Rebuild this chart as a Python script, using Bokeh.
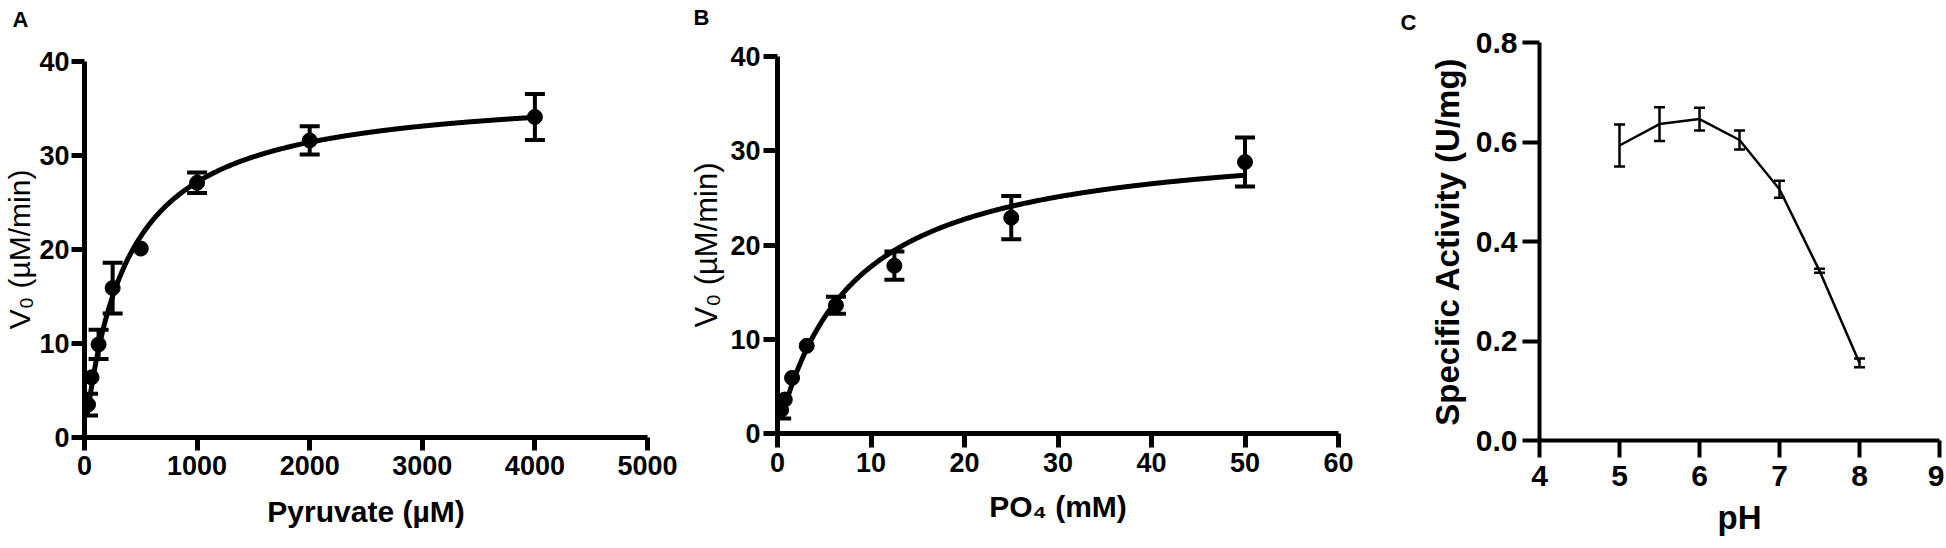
import numpy as np
from bokeh.plotting import figure
from bokeh.models import (Range1d, FixedTicker, Whisker, TeeHead, ColumnDataSource,
                          PrintfTickFormatter)
from bokeh.layouts import row, column
from bokeh.embed import file_html
from bokeh.resources import INLINE

FONT = "Liberation Sans"

# ---------------- data ----------------
# Panel A: pyruvate saturation (Michaelis-Menten)
pyruvate_uM = [31.25, 62.5, 125, 250, 500, 1000, 2000, 4000]
pyruvate_v0 = [3.5, 6.4, 9.9, 15.9, 20.1, 27.1, 31.6, 34.1]
pyruvate_sd = [1.15, 0.7, 1.55, 2.7, 0.3, 1.1, 1.5, 2.45]
pyruvate_vmax = 37.2     # fitted Vmax (uM/min)
pyruvate_km = 369.0      # fitted Km (uM)

# Panel B: phosphate saturation
po4_mM = [0.39, 0.78, 1.56, 3.125, 6.25, 12.5, 25, 50]
po4_v0 = [2.5, 3.6, 5.9, 9.3, 13.6, 17.8, 22.9, 28.8]
po4_sd = [0.9, 0.7, 0.4, 0.3, 0.9, 1.5, 2.3, 2.6]
po4_vmax = 31.75
po4_km = 7.93

# Panel C: pH profile
ph_values = [5.0, 5.5, 6.0, 6.5, 7.0, 7.5, 8.0]
specific_activity = [0.593, 0.636, 0.646, 0.604, 0.505, 0.341, 0.156]
specific_activity_sd = [0.042, 0.034, 0.023, 0.019, 0.017, 0.004, 0.009]

# ticks
pyruvate_xticks = [0, 1000, 2000, 3000, 4000, 5000]
v0_yticks = [0, 10, 20, 30, 40]
po4_xticks = [0, 10, 20, 30, 40, 50, 60]
ph_xticks = [4, 5, 6, 7, 8, 9]
activity_yticks = [0.0, 0.2, 0.4, 0.6, 0.8]

SYMBOL = 15  # marker diameter (px)


# ---------------- helpers ----------------
def make_fig(width, height, frame, xr, yr, letter, letter_x, two_line):
    L, R, T, B = frame
    p = figure(width=width, height=height,
               x_range=Range1d(*xr), y_range=Range1d(*yr),
               output_backend="svg", toolbar_location=None,
               min_border_left=L, min_border_right=width - R,
               min_border_top=T, min_border_bottom=height - B)
    p.outline_line_color = None
    p.grid.visible = False
    p.background_fill_color = "white"
    p.border_fill_color = "white"
    # panel letter as the plot title, pushed towards the top-left corner
    p.title.text = letter + ("\n" if two_line else "")
    p.title.text_font = FONT
    p.title.text_font_size = "22px"
    p.title.text_font_style = "bold"
    p.title.text_color = "black"
    p.title.text_line_height = 1.0
    p.title.align = "left"
    p.title.offset = letter_x - L
    p.title.standoff = max(T - (51 if two_line else 26), 0)
    return p


def style_axes(p, xticks, yticks, lw, tick_out, xstand, ystand, fs, xfmt, yfmt):
    for ax in (p.xaxis[0], p.yaxis[0]):
        ax.axis_line_width = lw
        ax.axis_line_color = "black"
        ax.major_tick_line_width = lw
        ax.major_tick_line_color = "black"
        ax.major_tick_out = tick_out
        ax.major_tick_in = 0
        ax.minor_tick_line_color = None
        ax.major_label_text_font = FONT
        ax.major_label_text_font_style = "bold"
        ax.major_label_text_font_size = fs
        ax.major_label_text_color = "black"
        ax.axis_label_text_font = FONT
        ax.axis_label_text_color = "black"
    p.xaxis[0].ticker = FixedTicker(ticks=xticks)
    p.yaxis[0].ticker = FixedTicker(ticks=yticks)
    p.xaxis[0].formatter = PrintfTickFormatter(format=xfmt)
    p.yaxis[0].formatter = PrintfTickFormatter(format=yfmt)
    p.xaxis[0].major_label_standoff = xstand
    p.yaxis[0].major_label_standoff = ystand


def set_label(ax, text, size, bold, standoff):
    ax.axis_label = text
    ax.axis_label_text_font_size = f"{size}px"
    ax.axis_label_text_font_style = "bold" if bold else "normal"
    ax.axis_label_standoff = standoff


def errorbars(p, xs, ys, sd, lw, cap, min_px=0.0, px_per_unit=1.0):
    # like the original software: bars shorter than the symbol are not drawn
    keep = [i for i, e in enumerate(sd) if e * px_per_unit > min_px]
    src = ColumnDataSource(dict(x=[xs[i] for i in keep],
                                upper=[ys[i] + sd[i] for i in keep],
                                lower=[ys[i] - sd[i] for i in keep]))
    p.add_layout(Whisker(source=src, base="x", upper="upper", lower="lower",
                         dimension="height", line_color="black", line_width=lw,
                         upper_head=TeeHead(size=cap, line_width=lw, line_color="black"),
                         lower_head=TeeHead(size=cap, line_width=lw, line_color="black")))


H = 546

# ---------------- Panel A ----------------
fa = (82, 647, 60, 437)
xa, ya = (0, 5000), (0, 40)
pA = make_fig(686, H, fa, xa, ya, "A", 10, True)
style_axes(pA, pyruvate_xticks, v0_yticks, 5, 13, 5, 2, "27px", "%d", "%d")
set_label(pA.yaxis[0], "V\u2080 (\u00b5M/min)", 30, False, 0)
set_label(pA.xaxis[0], "Pyruvate (\u00b5M)", 30, True, 17)
fit_x = np.linspace(min(pyruvate_uM), max(pyruvate_uM), 400)
pA.line(fit_x, pyruvate_vmax * fit_x / (pyruvate_km + fit_x), line_width=5, color="black")
errorbars(pA, pyruvate_uM, pyruvate_v0, pyruvate_sd, 4, 20,
          SYMBOL / 2, (fa[3] - fa[2]) / (ya[1] - ya[0]))
pA.scatter(pyruvate_uM, pyruvate_v0, size=SYMBOL, marker="circle", color="black")

# ---------------- Panel B ----------------
fb = (87, 652, 55, 433)
xb, yb = (0, 60), (0, 40)
pB = make_fig(702, H, fb, xb, yb, "B", 3, True)
style_axes(pB, po4_xticks, v0_yticks, 5, 14, 5, 3, "27px", "%d", "%d")
set_label(pB.yaxis[0], "V\u2080 (\u00b5M/min)", 31, False, 3)
set_label(pB.xaxis[0], "PO\u2084 (mM)", 30, True, 15)
fit_x = np.linspace(min(po4_mM), max(po4_mM), 400)
pB.line(fit_x, po4_vmax * fit_x / (po4_km + fit_x), line_width=5, color="black")
errorbars(pB, po4_mM, po4_v0, po4_sd, 4, 20,
          SYMBOL / 2, (fb[3] - fb[2]) / (yb[1] - yb[0]))
pB.scatter(po4_mM, po4_v0, size=SYMBOL, marker="circle", color="black")

# ---------------- Panel C ----------------
fc = (151, 551, 41, 440)
xc, yc = (4, 9), (0, 0.8)
pC = make_fig(556, H, fc, xc, yc, "C", 12, False)
style_axes(pC, ph_xticks, activity_yticks, 4, 17, 8, 5, "30px", "%d", "%.1f")
set_label(pC.yaxis[0], "Specific Activity (U/mg)", 33, True, 7)
set_label(pC.xaxis[0], "pH", 33, True, 10)
pC.line(ph_values, specific_activity, line_width=2.5, color="black")
errorbars(pC, ph_values, specific_activity, specific_activity_sd, 2.5, 11)

# each plot in its own column so that the plot frames are not aligned
layout = row(column(pA), column(pB), column(pC), spacing=0)
open("out.html", "w").write(file_html(layout, INLINE, title="Enzyme kinetics"))
